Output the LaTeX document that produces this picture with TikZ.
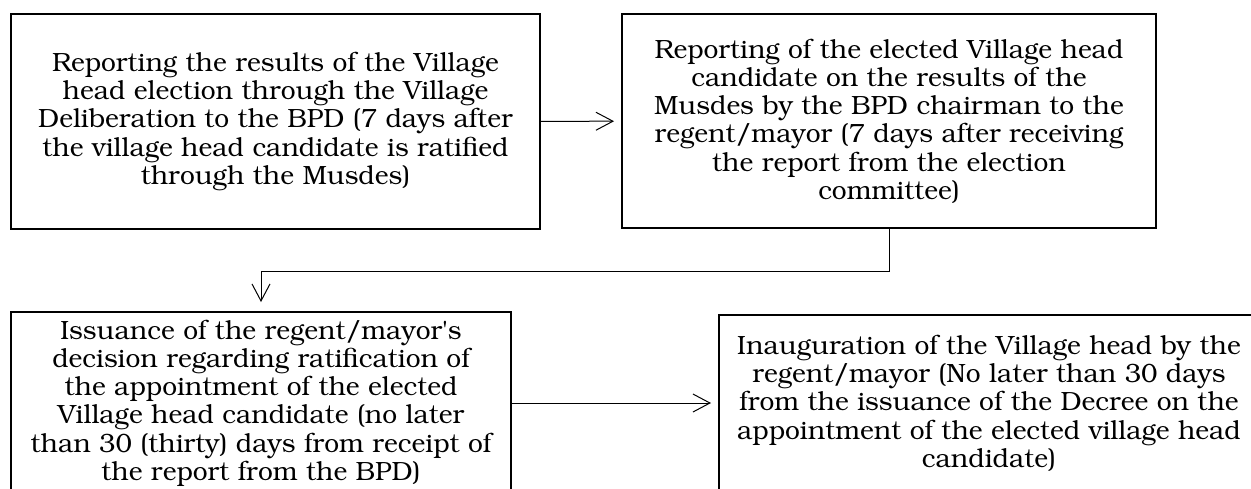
\documentclass[tikz,border=0pt]{standalone}
\usepackage[T1]{fontenc}
\usepackage{bookman}
\usepackage{textcomp}
\usepackage{tikz}
\usetikzlibrary{arrows.meta, positioning}

\begin{document}
\begin{tikzpicture}[x=0.5pt, y=-0.5pt,
    stage/.style={draw, line width=1pt, align=center, inner sep=0pt,
        font=\fontsize{13.2}{14.1}\selectfont},
    flow/.style={-{Straight Barb[length=8.5pt, width=9pt]}, line width=0.5pt}]
    \useasboundingbox (0,0) rectangle (1251,488);

    % top row
    \node[stage, minimum width=529*0.5pt, minimum height=215*0.5pt] (report) at (275.5,121.5)
        {Reporting the results of the Village\\
         head election through the Village\\
         Deliberation to the BPD (7 days after\\
         the village head candidate is ratified\\
         through the Musdes)};
    \node[stage, minimum width=534*0.5pt, minimum height=214*0.5pt] (forward) at (889,121)
        {Reporting of the elected Village head\\
         candidate on the results of the\\
         Musdes by the BPD chairman to the\\
         regent/mayor (7 days after receiving\\
         the report from the election\\
         committee)};

    % bottom row (both boxes run past the page edge)
    \node[stage, minimum width=500*0.5pt, minimum height=182*0.5pt] (decree) at (261,403)
        {Issuance of the regent/mayor\textquotesingle s\\
         decision regarding ratification of\\
         the appointment of the elected\\
         Village head candidate (no later\\
         than 30 (thirty) days from receipt of\\
         the report from the BPD)};
    \node[stage, minimum width=540*0.5pt, minimum height=176*0.5pt] (inaug) at (989,403)
        {Inauguration of the Village head by the\\
         regent/mayor (No later than 30 days\\
         from the issuance of the Decree on the\\
         appointment of the elected village head\\
         candidate)};

    % arrows
    \draw[flow, shorten >=3.5pt] (report) -- (forward);
    \draw[flow, shorten >=4.5pt] (forward.south) -- ++(0,42) -| (decree.north);
    \draw[flow, shorten >=3.5pt] (decree) -- (inaug);
\end{tikzpicture}
\end{document}
